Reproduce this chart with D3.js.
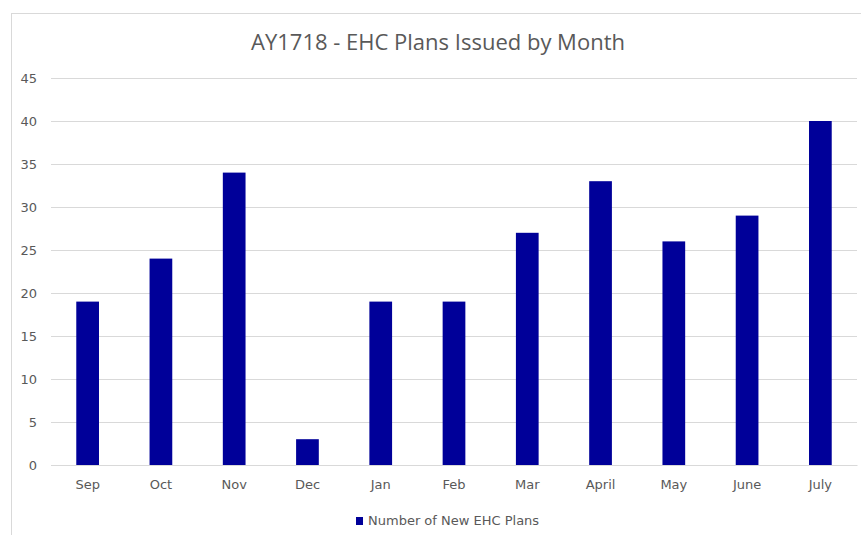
<!DOCTYPE html>
<html>
<head>
<meta charset="utf-8">
<script src="https://cdn.jsdelivr.net/npm/d3@7"></script>
<style>
  body { margin: 0; background: #fff; }
  text { font-family: "DejaVu Sans", sans-serif; fill: #595959; }
</style>
</head>
<body>
<svg class="chart"></svg>
<script>
var months = ["Sep", "Oct", "Nov", "Dec", "Jan", "Feb", "Mar", "April", "May", "June", "July"];
var plans = [19, 24, 34, 3, 19, 19, 27, 33, 26, 29, 40];
var yTicks = [0, 5, 10, 15, 20, 25, 30, 35, 40, 45];
var seriesName = "Number of New EHC Plans";
var chartTitle = "AY1718 - EHC Plans Issued by Month";

var svgWidth = 861, svgHeight = 535;
var margin = { top: 78, right: 4, bottom: 70, left: 51 };
var width = svgWidth - margin.left - margin.right;
var height = svgHeight - margin.top - margin.bottom;
var barColor = "#000099";

var svg = d3.select(".chart")
    .attr("width", svgWidth)
    .attr("height", svgHeight);

// chart frame
svg.append("rect")
    .attr("x", 11.5)
    .attr("y", 13.5)
    .attr("width", svgWidth + 10)
    .attr("height", svgHeight + 10)
    .attr("fill", "none")
    .attr("stroke", "#d9d9d9");

svg.append("text")
    .attr("x", 438)
    .attr("y", 50)
    .attr("text-anchor", "middle")
    .style("font-family", "'Open Sans', sans-serif")
    .style("font-size", "22px")
    .text(chartTitle);

var g = svg.append("g")
    .attr("transform", "translate(" + margin.left + "," + margin.top + ")");

var x = d3.scaleBand()
    .domain(months)
    .range([0, width])
    .paddingInner(0.69)
    .paddingOuter(0.345);

var y = d3.scaleLinear()
    .domain([0, 45])
    .range([height, 0]);

// gridlines
g.append("g")
    .call(d3.axisLeft(y).tickValues(yTicks).tickSize(-width).tickFormat(""))
    .call(function(s) { s.select(".domain").remove(); })
    .selectAll("line")
    .attr("stroke", "#d9d9d9");

// y labels
var yAxis = g.append("g")
    .call(d3.axisLeft(y).tickValues(yTicks).tickSize(0).tickPadding(14));
yAxis.select(".domain").remove();
yAxis.selectAll("text")
    .style("font-size", "13px")
    .attr("fill", null);
yAxis.attr("font-family", null).attr("font-size", null);

g.selectAll(".bar")
    .data(plans)
    .enter()
    .append("rect")
    .attr("class", "bar")
    .attr("x", function(d, i) { return x(months[i]); })
    .attr("y", function(d) { return y(d); })
    .attr("width", x.bandwidth())
    .attr("height", function(d) { return height - y(d); })
    .attr("fill", barColor);

// x axis
var xAxis = g.append("g")
    .attr("transform", "translate(0," + height + ")")
    .call(d3.axisBottom(x).tickSize(0).tickPadding(15));
xAxis.select(".domain").attr("stroke", "#d9d9d9");
xAxis.selectAll("text")
    .style("font-size", "13px")
    .attr("fill", null);
xAxis.attr("font-family", null).attr("font-size", null);

// legend
var legend = svg.append("g")
    .attr("transform", "translate(356, 517)");
legend.append("rect")
    .attr("width", 7)
    .attr("height", 8)
    .attr("fill", barColor);
legend.append("text")
    .attr("x", 12)
    .attr("y", 8)
    .style("font-size", "13px")
    .text(seriesName);
</script>
</body>
</html>
